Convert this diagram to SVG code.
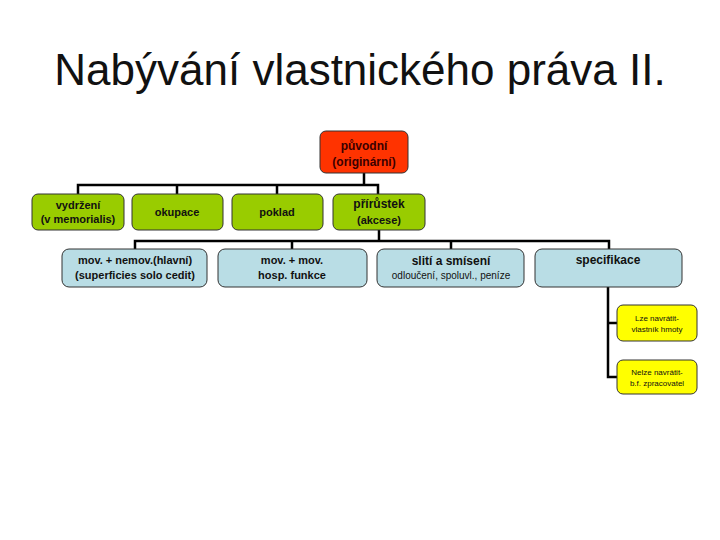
<svg xmlns="http://www.w3.org/2000/svg" width="720" height="540" viewBox="0 0 720 540">
<style>
text{font-family:"Liberation Sans",Arial,sans-serif;text-anchor:middle;fill:#111}
.box{stroke:#333;stroke-width:1}
.red{fill:#FF3300}
.green{fill:#99CC00}
.blue{fill:#B9DDE5}
.yel{fill:#FFFF00}
.t1{font-size:12px;font-weight:bold}
.t2{font-size:11px;font-weight:bold}
.t3{font-size:10px}
.t4{font-size:8px}
.conn{fill:none;stroke:#000;stroke-width:2.5}
</style>
<rect width="720" height="540" fill="#fff"/>
<text x="360" y="85" style="font-size:44px" fill="#000">Nabývání vlastnického práva II.</text>
<g id="connectors">
<path class="conn" d="M364 173V185M78 194V185H378V194M177 185V194M277 185V194"/>
<path class="conn" d="M379 230V241M135 249V241H609V249M292 241V249M451 241V249"/>
<path class="conn" d="M608 287V377H617M608 323H617"/>
</g>
<g id="n-puvodni">
<rect class="box red" x="320" y="131" width="88" height="42" rx="6"/>
<text class="t1" x="364" y="150" style="fill:#3a0000">původní</text>
<text class="t1" x="364" y="166" style="fill:#3a0000">(originární)</text>
</g>
<g id="n-vydrzeni">
<rect class="box green" x="32" y="194" width="92" height="36" rx="6"/>
<text class="t2" x="78" y="209">vydržení</text>
<text class="t2" x="78" y="223">(v memorialis)</text>
</g>
<g id="n-okupace">
<rect class="box green" x="132" y="194" width="91" height="36" rx="6"/>
<text class="t2" x="177" y="216">okupace</text>
</g>
<g id="n-poklad">
<rect class="box green" x="232" y="194" width="91" height="36" rx="6"/>
<text class="t2" x="277" y="216">poklad</text>
</g>
<g id="n-prirustek">
<rect class="box green" x="333" y="194" width="92" height="36" rx="6"/>
<text class="t1" x="379" y="208">přírůstek</text>
<text class="t2" x="379" y="224">(akcese)</text>
</g>
<g id="n-movnemov">
<rect class="box blue" x="62" y="249" width="145" height="38" rx="7"/>
<text class="t2" x="135" y="264">mov. + nemov.(hlavní)</text>
<text class="t2" x="135" y="279">(superficies solo cedit)</text>
</g>
<g id="n-movmov">
<rect class="box blue" x="218" y="249" width="149" height="38" rx="7"/>
<text class="t2" x="292" y="264">mov. + mov.</text>
<text class="t2" x="292" y="279">hosp. funkce</text>
</g>
<g id="n-sliti">
<rect class="box blue" x="377" y="249" width="147" height="38" rx="7"/>
<text class="t1" x="451" y="265">slití a smísení</text>
<text class="t3" x="451" y="279">odloučení, spoluvl., peníze</text>
</g>
<g id="n-specifikace">
<rect class="box blue" x="535" y="249" width="147" height="38" rx="7"/>
<text class="t1" x="608" y="264">specifikace</text>
</g>
<g id="n-lze">
<rect class="box yel" x="617" y="305" width="80" height="36" rx="6"/>
<text class="t4" x="657" y="321">Lze navrátit-</text>
<text class="t4" x="657" y="332">vlastník hmoty</text>
</g>
<g id="n-nelze">
<rect class="box yel" x="617" y="360" width="80" height="34" rx="6"/>
<text class="t4" x="657" y="375">Nelze navrátit-</text>
<text class="t4" x="657" y="386">b.f. zpracovatel</text>
</g>
</svg>
